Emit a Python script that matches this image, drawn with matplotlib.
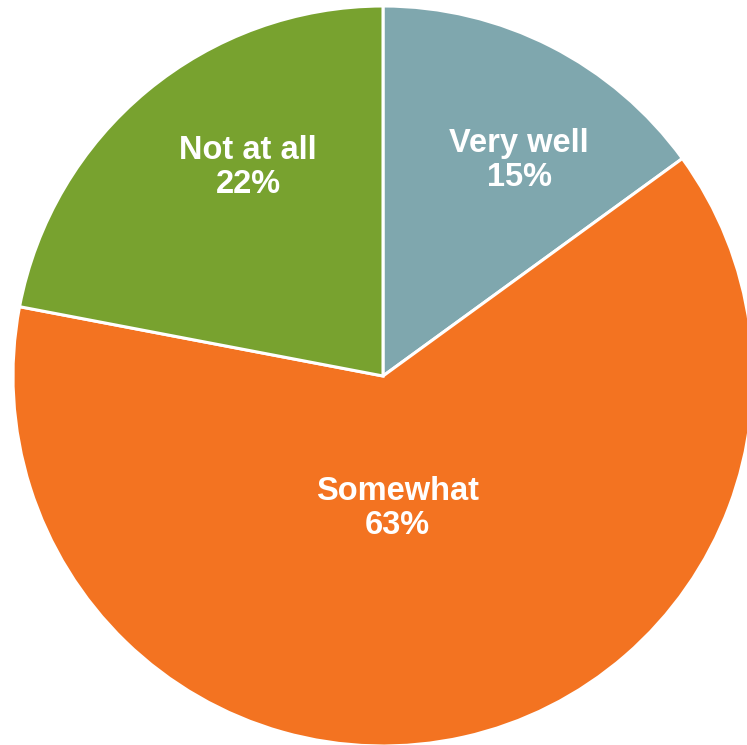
import matplotlib.pyplot as plt

# --- Data ---
labels = ["Very well", "Somewhat", "Not at all"]
shares = [15, 63, 22]
colors = ["#7FA7AE", "#F37321", "#78A22F"]

# label anchor points in pie-radius units (x, y from centre)
label_pos = [(0.368, 0.583), (0.040, -0.357), (-0.365, 0.564)]

W, H = 747, 745
CX, CY, R = 383, 376, 370  # pie centre and radius in pixels

fig = plt.figure(figsize=(W / 100, H / 100), dpi=100)
ax = fig.add_axes([0, 0, 1, 1])

ax.pie(shares, colors=colors, startangle=90, counterclock=False, radius=1.0,
       wedgeprops=dict(edgecolor="white", linewidth=2.2))

for name, pct, (x, y) in zip(labels, shares, label_pos):
    ax.text(x, y, f"{name}\n{pct}%", ha="center", va="center",
            color="white", fontsize=23.5, fontweight="bold",
            family=["Liberation Sans", "DejaVu Sans"], linespacing=1.12)

# map pixels to data units so the circle sits where intended
ax.set_xlim(-CX / R, (W - CX) / R)
ax.set_ylim(-(H - CY) / R, CY / R)
ax.set_aspect("auto")
ax.axis("off")

fig.savefig("out.png", dpi=100, facecolor="white")
